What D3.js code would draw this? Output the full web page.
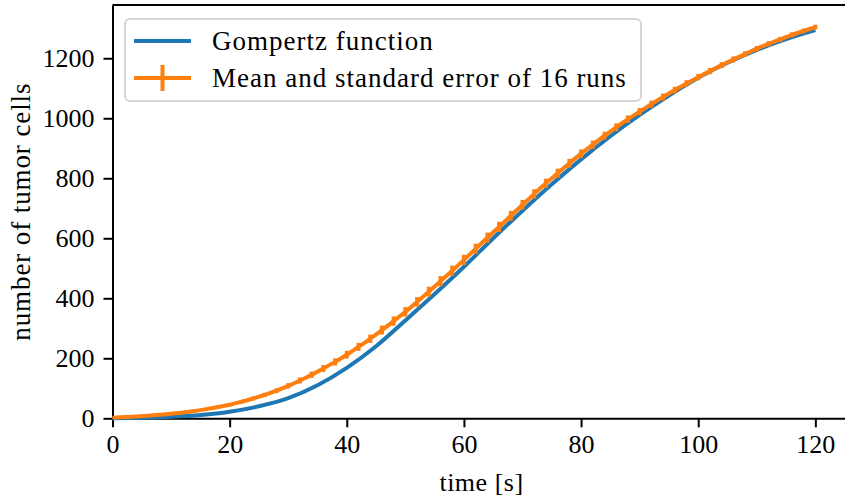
<!DOCTYPE html>
<html>
<head>
<meta charset="utf-8">
<script src="https://cdn.jsdelivr.net/npm/d3@7"></script>
<style>
  body { margin: 0; background: #fff; }
  svg { display: block; font-family: 'Liberation Serif', 'DejaVu Serif', serif; }
</style>
</head>
<body>
<div class="graph-tumor"><svg></svg></div>
<script>
// Gompertz fit, every 5 s
const gompertzTime = [0, 5, 10, 15, 20, 25, 30, 35, 40, 45, 50, 55, 60, 65, 70, 75, 80, 85, 90, 95, 100, 105, 110, 115, 120]
const gompertzCells = [0.5, 1.5, 5, 11, 22, 40, 67, 110, 168, 240, 326, 414, 505, 600, 692, 780, 863, 940, 1011, 1076, 1135, 1185, 1228, 1264, 1294]

// mean of the 16 runs, sampled every 2 s
const runTime = d3.range(0, 121, 2)
const runMean = [2, 4, 6, 8.5, 11.5, 15, 19.5, 24.5, 30.5, 37.5,
  45, 55, 66, 78, 92, 108, 126, 145, 166, 188,
  212, 238, 265, 294, 324, 355, 388, 422, 457, 492,
  528, 565, 602, 638, 675, 712, 748, 783, 817, 850,
  882, 912, 942, 970, 997, 1022, 1047, 1071, 1094, 1116,
  1137, 1157, 1177, 1196, 1214, 1232, 1248, 1263, 1278, 1291, 1304]
const runSem = [0, 0.5, 1, 1.5, 2, 2.5, 3, 3.5, 4, 5,
  5.5, 6, 6.5, 7, 8, 9, 10, 10.5, 11.5, 12,
  13, 13.5, 14, 15, 15.5, 16, 16, 16.5, 17, 17,
  17, 17, 17, 17, 16.5, 16, 15.5, 15.5, 15, 14.5,
  14, 13.5, 13, 13, 12.5, 12, 12, 11.5, 11, 11,
  10.5, 10.5, 10, 10, 9.5, 9, 9, 8.5, 8.5, 8, 8]

const xTicks = [0, 20, 40, 60, 80, 100, 120]
const yTicks = [0, 200, 400, 600, 800, 1000, 1200]

const seriesNames = ['Gompertz function', 'Mean and standard error of 16 runs']
const colors = ['#1f77b4', '#ff7f0e']

const margin = { top: 5, left: 112.5 }
const width = 738
const height = 413.3
const fontSize = 26

const svg = d3.select('.graph-tumor').select('svg')
  .attr('width', 845)
  .attr('height', 500)

const g = svg.append('g')
  .attr('transform', 'translate(' + margin.left + ',' + margin.top + ')')

const xScale = d3.scaleLinear().domain([0, 126]).range([0, width])
const yScale = d3.scaleLinear().domain([0, 1377.5]).range([height, 0])

/**
 * Draws the axes with matplotlib-like ticks.
 */
function drawAxes () {
  const xAxis = g.append('g')
    .attr('class', 'x axis')
    .attr('transform', 'translate(0,' + height + ')')
    .call(d3.axisBottom(xScale).tickValues(xTicks).tickFormat(d3.format('d'))
      .tickSize(9).tickPadding(7).tickSizeOuter(0))
  const yAxis = g.append('g')
    .attr('class', 'y axis')
    .call(d3.axisLeft(yScale).tickValues(yTicks).tickFormat(d3.format('d'))
      .tickSize(9).tickPadding(9).tickSizeOuter(0))

  for (const ax of [xAxis, yAxis]) {
    ax.selectAll('path.domain').attr('stroke', '#000').attr('stroke-width', 2)
    ax.selectAll('.tick line').attr('stroke', '#000').attr('stroke-width', 2)
    ax.selectAll('.tick text')
      .attr('fill', '#000')
      .style('font-family', 'Liberation Serif, serif')
      .style('font-size', fontSize + 'px')
  }

  // top spine
  g.append('line')
    .attr('x1', 0).attr('x2', width)
    .attr('y1', 0).attr('y2', 0)
    .attr('stroke', '#000').attr('stroke-width', 2)
  // right spine (falls outside the canvas like in the original)
  g.append('line')
    .attr('x1', width).attr('x2', width)
    .attr('y1', 0).attr('y2', height)
    .attr('stroke', '#000').attr('stroke-width', 2)
}

/**
 * Appends the axis titles.
 */
function appendLabels () {
  svg.append('text')
    .text('time [s]')
    .attr('x', margin.left + width / 2)
    .attr('y', 491)
    .attr('text-anchor', 'middle')
    .attr('font-size', fontSize)
    .attr('letter-spacing', 0.5)

  svg.append('text')
    .text('number of tumor cells')
    .attr('transform', 'translate(30,' + (margin.top + height / 2) + ') rotate(-90)')
    .attr('text-anchor', 'middle')
    .attr('font-size', 27)
    .attr('letter-spacing', 0.9)
}

/**
 * Draws the Gompertz curve and the mean with its error bars.
 */
function drawSeries () {
  const line = d3.line()
    .x(d => xScale(d[0]))
    .y(d => yScale(d[1]))
    .curve(d3.curveMonotoneX)

  g.append('path')
    .datum(gompertzTime.map((t, i) => [t, gompertzCells[i]]))
    .attr('d', line)
    .attr('fill', 'none')
    .attr('stroke', colors[0])
    .attr('stroke-width', 4)

  const mean = runTime.map((t, i) => [t, runMean[i], runSem[i]])

  g.append('path')
    .datum(mean)
    .attr('d', line)
    .attr('fill', 'none')
    .attr('stroke', colors[1])
    .attr('stroke-width', 4)
    .attr('stroke-linejoin', 'round')

  g.append('g')
    .selectAll('line')
    .data(mean)
    .join('line')
    .attr('x1', d => xScale(d[0]))
    .attr('x2', d => xScale(d[0]))
    .attr('y1', d => yScale(d[1] - d[2]))
    .attr('y2', d => yScale(d[1] + d[2]))
    .attr('stroke', colors[1])
    .attr('stroke-width', 4)
}

/**
 * Draws the legend box in the upper left corner.
 */
function drawLegend () {
  const leg = svg.append('g')
  leg.append('rect')
    .attr('x', 125).attr('y', 19)
    .attr('width', 516).attr('height', 82)
    .attr('rx', 5)
    .attr('fill', '#fff')
    .attr('fill-opacity', 0.8)
    .attr('stroke', '#d5d5d5')
    .attr('stroke-width', 2)

  const rows = [41, 78]
  rows.forEach((y, i) => {
    leg.append('line')
      .attr('x1', 134).attr('x2', 191)
      .attr('y1', y).attr('y2', y)
      .attr('stroke', colors[i])
      .attr('stroke-width', 4)
    if (i === 1) {
      leg.append('line')
        .attr('x1', 162.5).attr('x2', 162.5)
        .attr('y1', y - 13).attr('y2', y + 13)
        .attr('stroke', colors[i])
        .attr('stroke-width', 4)
    }
    leg.append('text')
      .text(seriesNames[i])
      .attr('x', 212)
      .attr('y', y)
      .attr('dy', '0.33em')
      .attr('font-size', 27)
      .attr('letter-spacing', 1)
  })
}

drawAxes()
appendLabels()
drawSeries()
drawLegend()
</script>
</body>
</html>
